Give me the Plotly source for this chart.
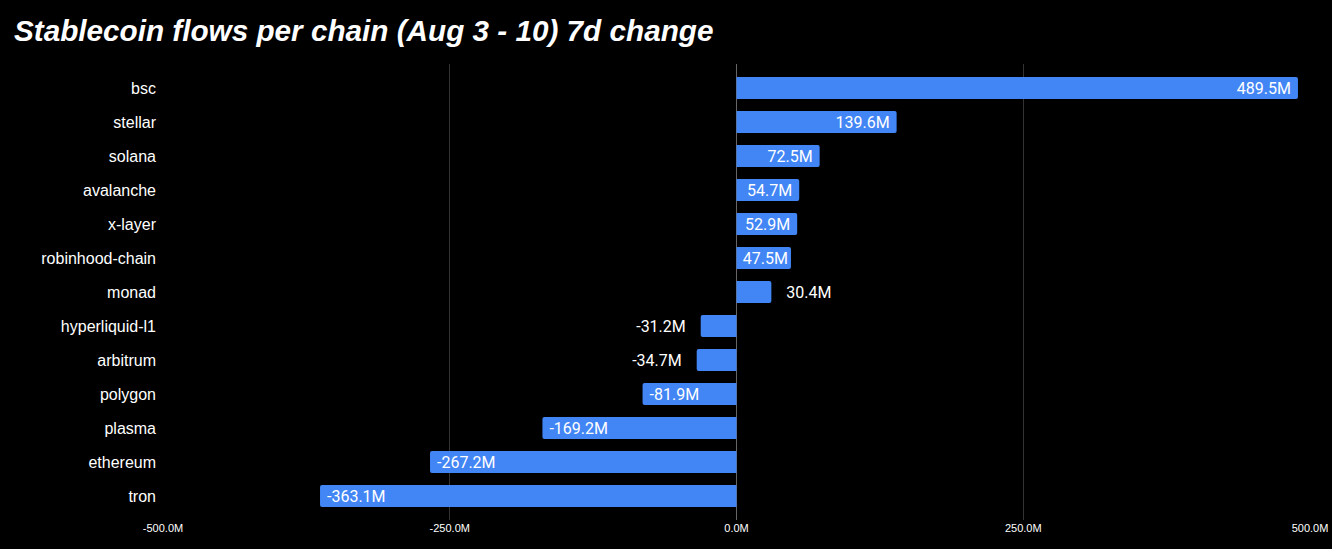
import plotly.graph_objects as go

chains = ["bsc", "stellar", "solana", "avalanche", "x-layer", "robinhood-chain", "monad",
          "hyperliquid-l1", "arbitrum", "polygon", "plasma", "ethereum", "tron"]
change_m = [489.5, 139.6, 72.5, 54.7, 52.9, 47.5, 30.4, -31.2, -34.7, -81.9, -169.2, -267.2, -363.1]
tick_vals = [-500, -250, 0, 250, 500]
tick_text = ["-500.0M", "-250.0M", "0.0M", "250.0M", "500.0M"]

out_pad = "\u00a0\u00a0\u00a0"
in_pad = "\u00a0"
positions = ["inside" if abs(v) > 40 else "outside" for v in change_m]
labels = []
for v, p in zip(change_m, positions):
    s = f"{v:.1f}M"
    if p == "outside":
        s = out_pad + s if v > 0 else s + out_pad
    elif abs(v) > 50:
        s = s + in_pad if v > 0 else in_pad + s
    labels.append(s)

fig = go.Figure(go.Bar(
    y=chains, x=change_m, orientation="h",
    marker=dict(color="#4285F4", cornerradius=2, line=dict(width=0)),
    text=labels, textposition=positions, insidetextanchor="end",
    textfont=dict(color="white", size=16, family="Roboto"),
    outsidetextfont=dict(color="white", size=16, family="Roboto"),
    constraintext="none", cliponaxis=False,
))

n = len(chains)
fig.update_layout(
    width=1332, height=549,
    paper_bgcolor="black", plot_bgcolor="black",
    margin=dict(l=163, r=22, t=64, b=29),
    bargap=0.353,
    font=dict(family="Liberation Sans, Arial", color="white"),
    title=dict(text="<b><i>Stablecoin flows per chain (Aug 3 - 10) 7d change</i></b>",
               x=0.0105, xanchor="left", y=0.945, yanchor="middle",
               font=dict(size=29.7, color="white")),
    showlegend=False,
)
fig.update_xaxes(range=[-500, 500], tickvals=tick_vals, ticktext=tick_text,
                 showgrid=True, gridcolor="#333333", gridwidth=1,
                 zeroline=True, zerolinecolor="#666666", zerolinewidth=1,
                 tickfont=dict(size=11, color="white"), ticks="", fixedrange=True,
                 automargin=False)
fig.update_yaxes(range=[n - 0.5 + 0.206, -0.706], tickfont=dict(size=16, color="white"),
                 ticks="", ticklabelstandoff=6, showgrid=False, automargin=False)

fig.write_html("out.html", config={"displayModeBar": False},
               post_script="document.body.style.margin='0';document.body.style.background='black';")
